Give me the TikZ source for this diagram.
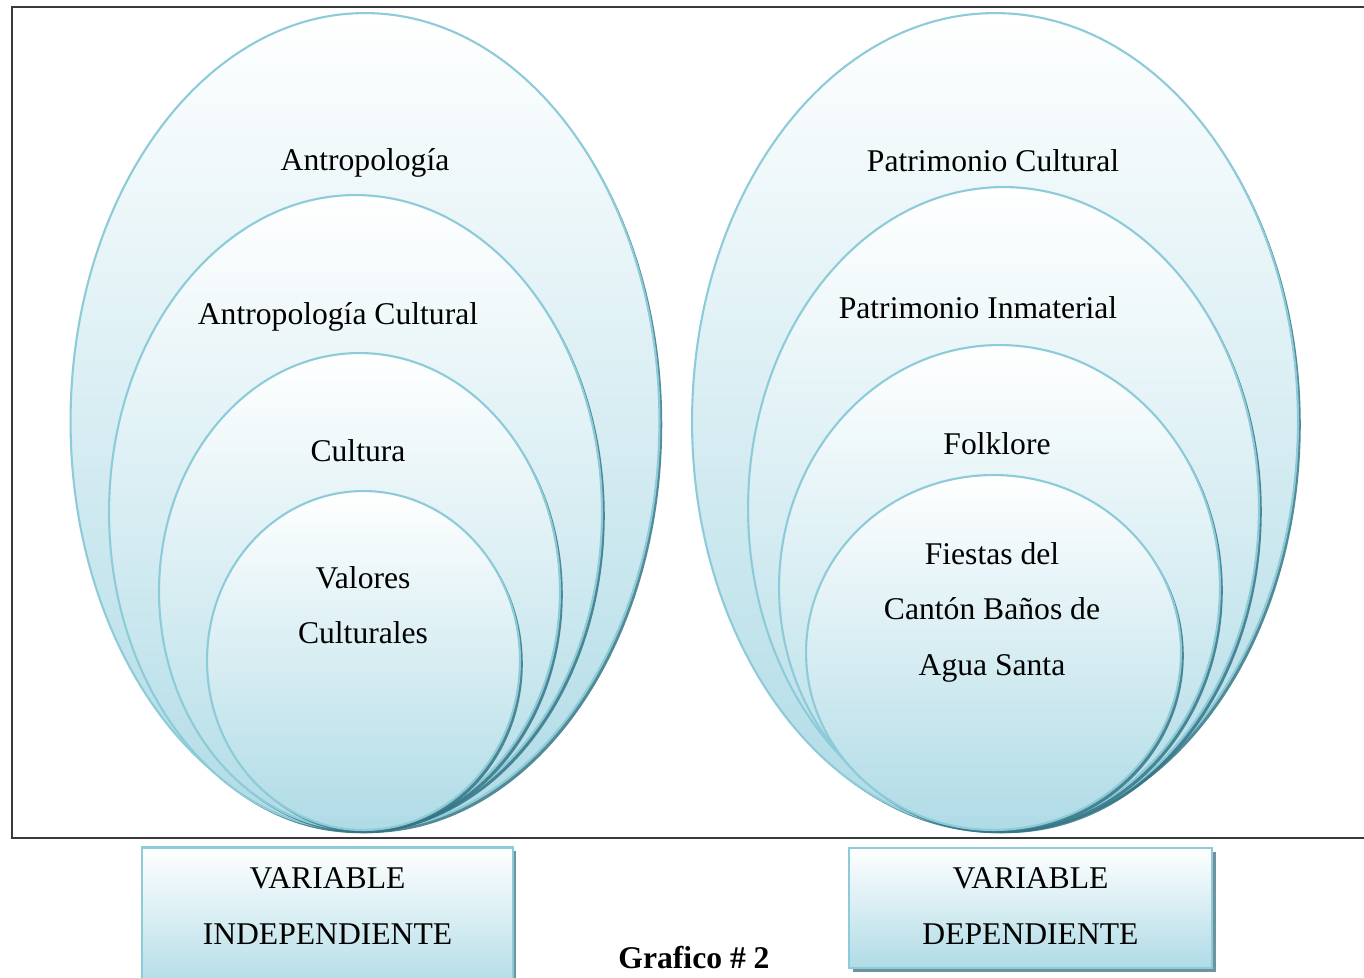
\documentclass[tikz,border=0pt]{standalone}
\usepackage{fontspec}
\setmainfont{Liberation Serif}
\usetikzlibrary{shapes.geometric,shadows,positioning}

\definecolor{ringline}{HTML}{8ECBD9}
\definecolor{ringfill}{HTML}{AFDBE6}
\definecolor{ringshadow}{HTML}{357585}
\definecolor{framegray}{HTML}{3A3A3A}

\begin{document}
\begin{tikzpicture}[
    x=0.02cm, y=-0.02cm,
    ring/.style={ellipse, draw=ringline, line width=1.2pt, top color=white, bottom color=ringfill,
        drop shadow={shadow xshift=1.6pt, shadow yshift=-1.8pt, fill=ringshadow, opacity=0.85}},
    varbox/.style={rectangle, draw=ringline, line width=1.4pt, top color=white, bottom color=ringfill,
        drop shadow={shadow xshift=2pt, shadow yshift=-2pt, fill=ringshadow!70!gray, opacity=0.8}},
    lbl/.style={align=center, font=\fontsize{18}{31.6}\selectfont, inner sep=0pt}
]
\useasboundingbox (0,0) rectangle (1364,977);

% Frame
\draw[framegray, line width=1.1pt] (1380,7) -- (12,7) -- (12,838) -- (1380,838);

% Independent variable rings
\node[ring, minimum width=11.78cm, minimum height=16.34cm] (antro) at (365,421.5) {};
\node[ring, minimum width=9.86cm, minimum height=12.70cm] (antrocult) at (355.5,512.5) {};
\node[ring, minimum width=8.02cm, minimum height=9.54cm] (cultura) at (359.5,591.5) {};
\node[ring, minimum width=6.26cm, minimum height=6.78cm] (valores) at (363.5,660.5) {};

% Dependent variable rings
\node[ring, minimum width=12.12cm, minimum height=16.34cm] (patri) at (995,421.5) {};
\node[ring, minimum width=10.22cm, minimum height=12.86cm] (patrinm) at (1003.5,508.5) {};
\node[ring, minimum width=8.82cm, minimum height=9.70cm] (folk) at (999.5,587.5) {};
\node[ring, minimum width=7.50cm, minimum height=7.10cm] (fiestas) at (993.5,652.5) {};

% Ring labels
\node[lbl] (t_antro) at (365,163) {Antropología};
\node[lbl] (t_antrocult) at (338,317) {Antropología Cultural};
\node[lbl] (t_cultura) at (358,451) {Cultura};
\node[lbl] (t_valores) at (363,605) {Valores\\Culturales};
\node[lbl] (t_patri) at (993,161) {Patrimonio Cultural};
\node[lbl] (t_patrinm) at (978,308) {Patrimonio Inmaterial};
\node[lbl] (t_folk) at (997,444) {Folklore};
\node[lbl] (t_fiestas) at (992,612) {Fiestas del\\Cantón Baños de\\Agua Santa};

% Variable boxes
\node[varbox, minimum width=7.42cm, minimum height=2.9cm] (indep) at (327.5,920) {};
\node[varbox, minimum width=7.26cm, minimum height=2.4cm] (dep) at (1030.5,908) {};
\node[lbl] (t_indep) at (327.5,906) {VARIABLE\\INDEPENDIENTE};
\node[lbl] (t_dep) at (1030.5,906) {VARIABLE\\DEPENDIENTE};

% Caption
\node[font=\fontsize{18}{22}\selectfont\bfseries, inner sep=0pt] (caption) at (694,958) {Grafico \# 2};

\end{tikzpicture}
\end{document}
